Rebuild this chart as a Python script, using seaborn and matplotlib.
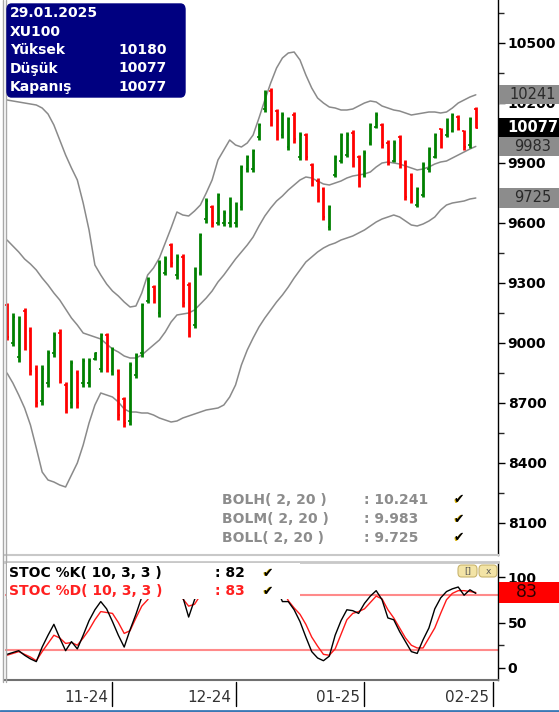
import numpy as np
import pandas as pd
import matplotlib
matplotlib.use("Agg")
import matplotlib.pyplot as plt
import matplotlib.transforms as mtransforms
from matplotlib.patches import Rectangle, FancyBboxPatch
from matplotlib.lines import Line2D
import seaborn as sns

# XU100 daily bars (last bar = 29.01.2025)
highs = [9200, 9150, 9135, 9175, 9080, 8890, 8890, 8965, 9055, 9070,
         8805, 8915, 8865, 8925, 8925, 8955, 9050, 9050, 8980, 8870,
         8730, 8905, 8950, 9200, 9330, 9290, 9415, 9435, 9500, 9445,
         9445, 9305, 9380, 9550, 9725, 9690, 9750, 9665, 9730, 9705,
         9890, 9940, 9970, 10100, 10265, 10275, 10170, 10155, 10130, 10155,
         10055, 10050, 9900, 9825, 9780, 9690, 9940, 10050, 10055, 10065,
         9940, 9965, 10100, 10155, 10100, 10015, 10015, 10040, 9915, 9850,
         9780, 9905, 9980, 10050, 10075, 10125, 10150, 10140, 10065, 10130,
         10180]
lows = [9015, 8985, 8905, 8965, 8840, 8680, 8690, 8780, 8930, 8800,
        8650, 8675, 8675, 8780, 8780, 8915, 8855, 8855, 8840, 8615,
        8580, 8590, 8825, 8930, 9200, 9200, 9130, 9340, 9380, 9320,
        9180, 9030, 9075, 9340, 9600, 9580, 9590, 9585, 9580, 9580,
        9665, 9855, 9855, 10015, 10155, 10085, 10015, 10025, 9965, 10000,
        9915, 9915, 9785, 9705, 9615, 9565, 9830, 9900, 9930, 9880,
        9780, 9830, 9990, 10075, 9975, 9890, 9905, 9875, 9715, 9700,
        9680, 9730, 9855, 9925, 9975, 10030, 10055, 10065, 9965, 9975,
        10077]
opens = [9190, 9000, 8930, 9160, 9060, 8870, 8710, 8800, 8950, 9050,
         8790, 8700, 8850, 8800, 8800, 8920, 8870, 9040, 8860, 8860,
         8720, 8610, 8840, 8950, 9210, 9280, 9150, 9350, 9490, 9340,
         9430, 9290, 9090, 9350, 9620, 9680, 9600, 9600, 9600, 9600,
         9680, 9870, 9870, 10030, 10170, 10260, 10160, 10040, 9980, 10140,
         9930, 10040, 9890, 9810, 9770, 9580, 9840, 9910, 9940, 10050,
         9930, 9840, 10000, 10080, 10090, 10000, 9910, 10030, 9900, 9840,
         9690, 9740, 9870, 9930, 10070, 10040, 10060, 10130, 10060, 9990,
         10170]
closes = [9030, 9130, 9120, 8990, 8860, 8700, 8870, 8950, 9040, 8820,
          8670, 8900, 8700, 8910, 8910, 8950, 9040, 8870, 8970, 8640,
          8600, 8890, 8940, 9190, 9320, 9210, 9400, 9420, 9400, 9430,
          9200, 9050, 9370, 9540, 9710, 9600, 9740, 9650, 9720, 9690,
          9880, 9930, 9960, 10090, 10250, 10100, 10030, 10140, 10120, 10020,
          10040, 9930, 9800, 9720, 9630, 9680, 9930, 10040, 10040, 9900,
          9800, 9950, 10090, 10140, 9990, 9900, 10000, 9890, 9730, 9710,
          9770, 9890, 9970, 10040, 9990, 10110, 10140, 10070, 9980, 10120,
          10077]

# Bollinger (2, 20)
bolh = [10215, 10210, 10205, 10200, 10195, 10190, 10175, 10145, 10090, 10015,
        9940, 9875, 9815, 9700, 9565, 9390, 9340, 9295, 9260, 9235,
        9205, 9180, 9185, 9250, 9340, 9375, 9425, 9500, 9575, 9655,
        9640, 9635, 9660, 9690, 9750, 9815, 9915, 9965, 10015, 9990,
        9980, 10000, 10040, 10125, 10215, 10300, 10375, 10425, 10450, 10455,
        10415, 10340, 10275, 10225, 10200, 10180, 10175, 10165, 10165, 10170,
        10185, 10200, 10210, 10205, 10185, 10175, 10165, 10160, 10150, 10140,
        10145, 10150, 10155, 10155, 10150, 10155, 10175, 10200, 10215, 10230,
        10241]
bolm = [9515, 9485, 9455, 9420, 9395, 9365, 9325, 9290, 9250, 9215,
        9170, 9125, 9090, 9050, 9040, 9030, 9020, 8995, 8970, 8955,
        8935, 8925, 8925, 8940, 8965, 8990, 9015, 9055, 9105, 9140,
        9145, 9150, 9165, 9195, 9225, 9260, 9305, 9340, 9380, 9420,
        9455, 9490, 9530, 9585, 9635, 9675, 9710, 9735, 9765, 9790,
        9815, 9830, 9825, 9810, 9795, 9790, 9800, 9810, 9825, 9835,
        9840, 9845, 9855, 9880, 9900, 9905, 9900, 9895, 9885, 9875,
        9865, 9870, 9880, 9895, 9905, 9910, 9925, 9940, 9955, 9970,
        9983]
boll = [8850, 8800, 8740, 8675, 8590, 8475, 8355, 8315, 8305, 8290,
        8280, 8340, 8400, 8490, 8600, 8690, 8750, 8740, 8730, 8705,
        8670, 8655, 8655, 8650, 8650, 8640, 8625, 8615, 8605, 8610,
        8625, 8635, 8645, 8655, 8665, 8670, 8675, 8690, 8730, 8790,
        8890, 8965, 9025, 9080, 9125, 9165, 9205, 9240, 9280, 9325,
        9365, 9405, 9430, 9455, 9475, 9490, 9500, 9515, 9525, 9535,
        9550, 9565, 9585, 9605, 9620, 9630, 9640, 9630, 9610, 9590,
        9585, 9595, 9610, 9630, 9665, 9690, 9700, 9705, 9710, 9720,
        9725]

# Stochastic (10, 3, 3)
stoch_k = [15, 17, 19, 14, 10, 7, 23, 36, 48, 33,
           19, 29, 21, 36, 52, 64, 73, 65, 51, 36,
           23, 42, 59, 78, 88, 84, 92, 95, 92, 90,
           78, 56, 75, 90, 95, 92, 96, 95, 97, 96,
           98, 98, 99, 99, 100, 95, 88, 73, 73, 64,
           51, 34, 18, 11, 8, 13, 36, 52, 64, 63,
           60, 71, 79, 85, 75, 55, 53, 40, 29, 18,
           16, 31, 44, 65, 77, 84, 87, 89, 80, 86,
           82]
stoch_d = [14, 16, 18, 15, 12, 8, 18, 27, 36, 33,
           27, 28, 25, 33, 42, 53, 62, 61, 60, 50,
           38, 41, 55, 68, 75, 85, 88, 90, 93, 88,
           76, 68, 70, 80, 86, 92, 94, 95, 96, 96,
           97, 98, 98, 99, 99, 98, 94, 87, 74, 66,
           59, 48, 34, 24, 15, 14, 21, 37, 53, 60,
           62, 65, 72, 79, 76, 64, 55, 44, 33, 25,
           22, 22, 33, 44, 60, 75, 82, 85, 85, 84,
           83]

month_starts = [18, 39, 61, 83]
month_labels = ["11-24", "12-24", "01-25", "02-25"]
price_ticks = [8100, 8400, 8700, 9000, 9300, 9600, 9900, 10200, 10500]
stoch_ticks = [0, 50, 100]

sns.set_style("white")
plt.rcParams["font.family"] = ["DejaVu Sans"]

W, H = 559, 712
fig = plt.figure(figsize=(W / 100, H / 100), dpi=100)


def fx(px):
    return px / W


def fy(py):
    return 1 - py / H


ax = fig.add_axes([fx(5), fy(555), fx(498) - fx(5), fy(0) - fy(555)])
axs = fig.add_axes([fx(5), fy(680), fx(498) - fx(5), fy(562) - fy(680)])

idx = np.arange(len(highs))
o = np.array(opens)
c = np.array(closes)
bar_colors = np.where(c >= o, "#008000", "#ff0000")

# price bars
ax.vlines(idx, lows, highs, colors=bar_colors, lw=2.0, zorder=3)
ax.hlines(opens, idx - 0.3, idx, colors=bar_colors, lw=1.2, zorder=3)
ax.hlines(closes, idx, idx + 0.3, colors=bar_colors, lw=1.2, zorder=3)

# bollinger bands
for band in [bolh, bolm, boll]:
    sns.lineplot(x=idx, y=band, ax=ax, color="#8a8a8a", lw=1.1, zorder=2)

# stochastic
sns.lineplot(x=idx, y=stoch_d, ax=axs, color="#ff1a1a", lw=1.0, zorder=2)
sns.lineplot(x=idx, y=stoch_k, ax=axs, color="black", lw=1.0, zorder=2)
axs.axhline(80, color="#ff8a8a", lw=1.5, zorder=1)
axs.axhline(20, color="#ff8a8a", lw=1.5, zorder=1)

xlim = ((5 - 7) / 5.86, (498 - 7) / 5.86)
for a in (ax, axs):
    a.set_xlim(*xlim)
    a.set_xticks([])
    a.set_xlabel("")
    a.set_ylabel("")
    a.yaxis.tick_right()
    for s in ("top", "left"):
        a.spines[s].set_visible(False)
    a.spines["right"].set_color("black")
    a.spines["right"].set_linewidth(1.0)
    a.tick_params(axis="y", which="major", length=5, width=1, pad=2,
                  labelsize=10, colors="black", right=True)
    a.tick_params(axis="y", which="minor", length=4, width=1, right=True)

ax.set_ylim(7940, 10715)
ax.set_yticks(price_ticks)
ax.set_yticks([t + 150 for t in price_ticks], minor=True)
ax.spines["bottom"].set_color("#c8c8c8")
ax.spines["bottom"].set_linewidth(1.5)

axs.set_ylim(-13.2, 116.5)
axs.set_yticks(stoch_ticks)
axs.set_yticks([25, 75], minor=True)
axs.spines["top"].set_visible(True)
axs.spines["top"].set_color("#c8c8c8")
axs.spines["top"].set_linewidth(2)
axs.spines["bottom"].set_color("#707070")
axs.spines["bottom"].set_linewidth(1.5)

for a in (ax, axs):
    for lbl in a.get_yticklabels():
        lbl.set_fontweight("bold")

# left frame lines and bottom blue line
for x in (2.5, 6):
    fig.add_artist(Line2D([fx(x), fx(x)], [fy(682), fy(0)], color="#a8a8a8", lw=1))
fig.add_artist(Line2D([0, 1], [fy(711), fy(711)], color="#3a78b5", lw=2))

# info box
fig.add_artist(FancyBboxPatch((fx(7), fy(97)), fx(185) - fx(7), fy(4) - fy(97),
                              boxstyle="round,pad=0,rounding_size=0.008",
                              transform=fig.transFigure, fc="#000080",
                              ec="#000080", zorder=5))
info_rows = [("29.01.2025", ""), ("XU100", ""),
             ("Yüksek", str(highs[-1])), ("Düşük", str(lows[-1])),
             ("Kapanış", str(closes[-1]))]
for k, (name, val) in enumerate(info_rows):
    yy = fy(13 + k * 18.5)
    fig.text(fx(10), yy, name, color="white", fontsize=10, fontweight="bold",
             va="center", ha="left", zorder=6)
    if val:
        fig.text(fx(118), yy, val, color="white", fontsize=10,
                 fontweight="bold", va="center", ha="left", zorder=6)

# right side value boxes on the price axis
blend_p = mtransforms.blended_transform_factory(fig.transFigure, ax.transData)
price_boxes = [(bolh[-1], "#8c8c8c", "#2a2a2a", "normal"),
               (bolm[-1], "#8c8c8c", "#2a2a2a", "normal"),
               (closes[-1], "black", "white", "bold"),
               (boll[-1], "#8c8c8c", "#2a2a2a", "normal")]
for val, fc, tc, fw in price_boxes:
    fig.add_artist(Rectangle((fx(498.5), val - 48), fx(559) - fx(498.5) + 0.01, 96,
                             transform=blend_p, fc=fc, ec="none", zorder=4))
    fig.text(fx(533), val, str(val), transform=blend_p, color=tc, fontsize=10.5,
             fontweight=fw, ha="center", va="center", zorder=5)

# stochastic value box
blend_s = mtransforms.blended_transform_factory(fig.transFigure, axs.transData)
fig.add_artist(Rectangle((fx(498.5), stoch_d[-1] - 12), fx(559) - fx(498.5) + 0.01, 24,
                         transform=blend_s, fc="#ff0000", ec="none", zorder=4))
fig.text(fx(527), stoch_d[-1], str(stoch_d[-1]), transform=blend_s,
         color="#300000", fontsize=12.5, ha="center", va="center", zorder=5)


def check(x, y):
    fig.text(fx(x - 0.8), fy(y + 0.8), "\u2714", color="#d8b000", fontsize=9,
             ha="center", va="center", zorder=7)
    fig.text(fx(x), fy(y), "\u2714", color="black", fontsize=9,
             ha="center", va="center", zorder=8)


# bollinger legend
bol_rows = [("BOLH( 2, 20 )", bolh[-1]), ("BOLM( 2, 20 )", bolm[-1]),
            ("BOLL( 2, 20 )", boll[-1])]
for k, (name, val) in enumerate(bol_rows):
    yy = 500 + k * 19
    fig.text(fx(222), fy(yy), name, color="#8c8c8c", fontsize=10,
             fontweight="bold", va="center", zorder=6)
    fig.text(fx(364), fy(yy), f": {val / 1000:.3f}", color="#8c8c8c",
             fontsize=10, fontweight="bold", va="center", zorder=6)
    check(459, yy)

# stochastic legend on a white box
fig.add_artist(Rectangle((fx(7), fy(599)), fx(300) - fx(7), fy(563) - fy(599),
                         transform=fig.transFigure, fc="white", ec="none", zorder=3))
stoch_rows = [("STOC %K( 10, 3, 3 )", stoch_k[-1], "black"),
              ("STOC %D( 10, 3, 3 )", stoch_d[-1], "#ff2020")]
for k, (name, val, col) in enumerate(stoch_rows):
    yy = 573 + k * 18
    fig.text(fx(9), fy(yy), name, color=col, fontsize=10, fontweight="bold",
             va="center", zorder=6)
    fig.text(fx(215), fy(yy), f": {val}", color=col, fontsize=10,
             fontweight="bold", va="center", zorder=6)
    check(268, yy)

# small window buttons
for x0, x1, txt in [(458, 477, "[]"), (479, 497, "x")]:
    fig.add_artist(FancyBboxPatch((fx(x0), fy(577)), fx(x1) - fx(x0), fy(565) - fy(577),
                                  boxstyle="round,pad=0,rounding_size=0.006",
                                  transform=fig.transFigure, fc="#f3e4a6",
                                  ec="#c9b56e", lw=0.8, zorder=6))
    fig.text(fx((x0 + x1) / 2), fy(571), txt, fontsize=6.5, color="#555555",
             ha="center", va="center", zorder=7)

# month separators and labels
blend_d = mtransforms.blended_transform_factory(axs.transData, fig.transFigure)
for m, lab in zip(month_starts, month_labels):
    fig.add_artist(Line2D([m, m], [fy(682), fy(706)], transform=blend_d,
                          color="black", lw=1))
    fig.text(m - 0.7, fy(697), lab, transform=blend_d, ha="right", va="center",
             fontsize=11, color="#333333")

plt.savefig("out.png", dpi=100)
